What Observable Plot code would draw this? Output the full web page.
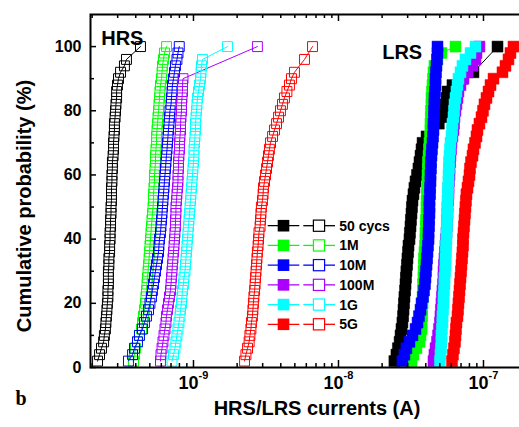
<!DOCTYPE html>
<html><head><meta charset="utf-8">
<script src="https://cdn.jsdelivr.net/npm/d3@7"></script>
<script src="https://cdn.jsdelivr.net/npm/@observablehq/plot@0.6"></script>
<style>
html,body{margin:0;padding:0;background:#fff;overflow:hidden;}
#chart svg{display:block;overflow:hidden;}
</style></head><body><div id="chart"></div>
<script>
// Series (legend order) and colours
const seriesNames = ["50 cycs", "1M", "10M", "100M", "1G", "5G"];
const seriesColors = ["#000000", "#00ff00", "#0000ff", "#aa00ff", "#00ffff", "#ff0000"];

// Cumulative probability levels (%)
const probability = [2,4,6,8,10,12,14,16,18,20,22,24,26,28,30,32,34,36,38,40,42,44,46,48,50,
  52,54,56,58,60,62,64,66,68,70,72,74,76,78,80,82,84,86,88,90,92,94,96,98,100];

// HRS currents (nA), open squares
const hrs50cycs = [0.218,0.225,0.232,0.240,0.243,0.247,0.249,0.251,0.253,0.255,
  0.257,0.257,0.259,0.259,0.259,0.261,0.261,0.264,0.264,0.266,
  0.266,0.268,0.268,0.270,0.270,0.272,0.272,0.272,0.274,0.274,
  0.276,0.276,0.279,0.281,0.281,0.283,0.285,0.285,0.288,0.290,
  0.292,0.295,0.295,0.299,0.304,0.314,0.334,0.345,null,0.431];
const hrs1M = [0.386,0.392,0.398,0.411,0.424,0.438,0.445,0.452,0.459,0.467,
  0.470,0.474,0.478,0.482,0.486,0.490,0.494,0.498,0.501,0.505,
  0.509,0.513,0.517,0.521,0.526,0.530,0.530,0.534,0.538,0.538,
  0.543,0.547,0.547,0.551,0.556,0.556,0.560,0.565,0.569,0.574,
  0.578,0.583,0.587,0.592,0.602,0.607,0.611,0.621,0.631,0.652];
const hrs10M = [0.356,0.380,0.392,0.411,0.424,0.445,0.459,0.474,0.490,0.501,
  0.513,0.521,0.530,0.538,0.547,0.556,0.565,0.574,0.578,0.583,
  0.592,0.597,0.602,0.607,0.611,0.616,0.621,0.626,0.631,0.636,
  0.641,0.646,0.651,0.657,0.662,0.667,0.672,0.678,0.683,0.689,
  0.700,0.705,0.711,0.716,0.728,0.740,0.751,0.769,0.782,0.798];
const hrs100M = [0.592,0.597,0.607,0.616,0.626,0.636,0.646,0.651,0.662,0.672,
  0.683,0.694,0.700,0.705,0.711,0.716,0.722,0.728,0.734,0.740,
  0.745,0.751,0.751,0.757,0.757,0.763,0.769,0.776,0.782,0.782,
  0.788,0.788,0.794,0.801,0.801,0.807,0.814,0.814,0.820,0.827,
  0.827,0.833,0.840,0.840,0.847,null,null,null,null,2.76];
const hrs1G = [0.711,0.728,0.745,0.757,0.769,0.782,0.794,0.807,0.814,0.827,
  0.833,0.840,0.853,0.860,0.874,0.881,0.888,0.895,0.902,0.909,
  0.916,0.924,0.931,0.939,0.946,0.954,0.961,0.969,0.977,0.984,
  0.992,1.000,1.008,1.008,1.016,1.024,1.032,1.032,1.040,1.049,
  1.057,1.066,1.083,1.100,1.118,1.127,1.136,1.154,null,1.716];
const hrs5G = [2.25,2.30,2.36,2.42,2.45,2.49,2.51,2.55,2.57,2.59,
  2.61,2.64,2.66,2.68,2.70,2.72,2.74,2.76,2.79,2.81,
  2.83,2.88,2.90,2.92,2.94,2.99,3.02,3.04,3.09,3.14,
  3.19,3.24,3.29,3.34,3.40,3.51,3.62,3.74,3.86,3.98,
  4.11,4.24,4.41,4.59,4.74,4.97,null,5.83,null,6.62];

// LRS currents (nA), filled squares
const lrs50cycs = [24.3,25.1,25.7,26.4,26.8,27.2,27.6,27.9,28.1,28.3,
  28.5,28.8,29.0,29.2,29.4,29.7,29.9,30.2,30.4,30.9,
  31.1,31.4,31.6,31.9,32.1,32.4,32.9,33.4,34.0,34.8,
  35.6,36.2,36.8,37.4,38.0,40.5,44.5,49.2,52.1,53.8,
  54.7,55.6,56.5,61.1,71.6,85.3,null,null,null,125];
const lrs1M = [31.9,32.9,34.5,36.2,36.8,37.4,37.4,37.7,37.7,38.0,
  38.0,38.3,38.3,38.6,38.6,38.9,38.9,39.2,39.5,39.8,
  39.8,40.1,40.1,40.5,40.5,40.5,40.8,40.8,41.1,41.1,
  41.4,41.4,41.8,42.1,42.4,42.8,43.1,43.1,43.4,43.4,
  43.8,43.8,44.1,44.5,44.9,45.2,45.9,48.2,51.3,64.1];
const lrs10M = [27.6,28.5,29.4,30.9,32.4,34.0,35.1,35.9,36.8,37.4,
  38.3,38.9,39.5,39.8,40.1,40.5,40.8,41.1,41.4,41.8,
  41.8,42.1,42.1,42.4,42.4,42.4,42.8,42.8,43.1,43.1,
  43.4,43.4,43.8,44.1,44.5,44.9,45.2,45.2,45.6,45.6,
  45.9,45.9,46.3,46.7,46.7,47.0,47.4,47.8,48.2,48.2];
const lrs100M = [45.2,45.9,46.7,47.8,48.6,49.3,50.1,50.5,50.9,51.3,
  51.7,52.1,52.6,53.0,53.0,53.4,53.8,54.3,54.7,55.1,
  55.6,56.0,56.0,56.5,56.5,56.9,57.4,57.4,57.8,58.3,
  58.3,58.8,59.2,59.7,60.2,61.1,62.1,62.6,63.1,64.1,
  65.1,66.2,67.2,69.4,72.8,77.6,84.0,88.1,89.5,93.8];
const lrs1G = [50.1,50.5,50.9,51.3,51.3,51.7,52.1,52.1,52.6,53.0,
  53.0,53.4,53.8,53.8,54.3,54.7,54.7,55.1,55.1,55.6,
  55.6,56.0,56.0,56.5,56.5,56.5,56.9,56.9,57.4,57.4,
  57.8,57.8,58.3,58.8,59.2,60.2,60.7,61.1,62.1,62.6,
  63.1,64.1,65.1,66.2,67.2,69.4,71.6,75.1,81.4,88.1];
const lrs5G = [60.7,61.6,62.6,63.6,64.1,64.6,65.1,66.2,66.7,67.2,
  67.8,68.3,68.9,69.4,70.0,70.5,71.1,71.6,72.2,72.2,
  72.8,73.4,74.0,74.5,75.1,75.7,76.3,77.6,78.8,80.1,
  80.7,82.0,84.0,85.3,87.4,89.5,90.9,93.8,96.9,99.2,
  101.6,104.9,108.3,111.8,117.3,135.2,141.8,148.7,153.5,161.0];

// Axis ticks
const xMajorTicks = [1e-9, 1e-8, 1e-7];
const xTickExponents = ["-9", "-8", "-7"];
const xMinorTicks = [2e-10,3e-10,4e-10,5e-10,6e-10,7e-10,8e-10,9e-10,
  2e-9,3e-9,4e-9,5e-9,6e-9,7e-9,8e-9,9e-9,
  2e-8,3e-8,4e-8,5e-8,6e-8,7e-8,8e-8,9e-8];
const yMajorTicks = [0, 20, 40, 60, 80, 100];
const yMinorTicks = [10, 30, 50, 70, 90];

const hrsSeries = [hrs50cycs, hrs1M, hrs10M, hrs100M, hrs1G, hrs5G];
const lrsSeries = [lrs50cycs, lrs1M, lrs10M, lrs100M, lrs1G, lrs5G];

const rowsOf = (vals) => vals
  .map((v, i) => ({current: v == null ? null : v * 1e-9, probability: probability[i]}))
  .filter(d => d.current != null);

const SANS = "Liberation Sans, Arial, Helvetica, sans-serif";
const marks = [];
seriesNames.forEach((name, i) => {
  const c = seriesColors[i];
  const h = rowsOf(hrsSeries[i]);
  const l = rowsOf(lrsSeries[i]);
  marks.push(Plot.line(h, {x: "current", y: "probability", stroke: c, strokeWidth: 1}));
  marks.push(Plot.dot(h, {x: "current", y: "probability", symbol: "square", r: 5.6, stroke: c, fill: "none", strokeWidth: 1}));
  marks.push(Plot.line(l, {x: "current", y: "probability", stroke: c, strokeWidth: 1}));
  marks.push(Plot.dot(l, {x: "current", y: "probability", symbol: "square", r: 6.2, stroke: c, fill: c, strokeWidth: 0.5}));
});

const frameH = 367 - 14, frameW = 521 - 90;
marks.push(
  Plot.frame({stroke: "black", strokeWidth: 2}),
  Plot.tickX(xMajorTicks, {x: d => d, insetTop: frameH - 7, stroke: "black", strokeWidth: 1.5}),
  Plot.tickX(xMajorTicks, {x: d => d, insetBottom: frameH - 7, stroke: "black", strokeWidth: 1.5}),
  Plot.tickX(xMinorTicks, {x: d => d, insetTop: frameH - 4, stroke: "black", strokeWidth: 1.5}),
  Plot.tickX(xMinorTicks, {x: d => d, insetBottom: frameH - 4, stroke: "black", strokeWidth: 1.5}),
  Plot.tickY(yMajorTicks, {y: d => d, insetRight: frameW - 6, stroke: "black", strokeWidth: 1.5}),
  Plot.tickY(yMinorTicks, {y: d => d, insetRight: frameW - 4, stroke: "black", strokeWidth: 1.5}),
  // tick labels
  Plot.text(yMajorTicks, {y: d => d, text: d => String(d), frameAnchor: "left", dx: -9, textAnchor: "end",
    fontSize: 16, fontWeight: "bold", fontFamily: SANS, fill: "black"}),
  Plot.text(xMajorTicks, {x: d => d, text: () => "10", frameAnchor: "bottom", dx: 5, dy: 21, textAnchor: "end",
    fontSize: 18, fontWeight: "bold", fontFamily: SANS, fill: "black"}),
  Plot.text(xMajorTicks, {x: d => d, text: (d, i) => xTickExponents[i], frameAnchor: "bottom", dx: 5, dy: 11.5, textAnchor: "start",
    fontSize: 11, fontWeight: "bold", fontFamily: SANS, fill: "black"}),
  // axis titles and annotations
  Plot.text(["HRS/LRS currents (A)"], {text: d => d, frameAnchor: "bottom", textAnchor: "middle", dx: 11, dy: 47.6,
    fontSize: 20, fontWeight: "bold", fontFamily: SANS, fill: "black"}),
  Plot.text(["Cumulative probability (%)"], {text: d => d, frameAnchor: "left", textAnchor: "middle", rotate: -90, dx: -65.5, dy: 15,
    fontSize: 20, fontWeight: "bold", fontFamily: SANS, fill: "black"}),
  Plot.text(["HRS"], {text: d => d, frameAnchor: "top-left", textAnchor: "start", dx: 10.7, dy: 16.3,
    fontSize: 20, fontWeight: "bold", fontFamily: SANS, fill: "black"}),
  Plot.text(["LRS"], {text: d => d, frameAnchor: "top-left", textAnchor: "start", dx: 291.7, dy: 30.3,
    fontSize: 20, fontWeight: "bold", fontFamily: SANS, fill: "black"}),
  Plot.text(["b"], {text: d => d, frameAnchor: "bottom-left", textAnchor: "start", dx: -75, dy: 37.6,
    fontSize: 20, fontWeight: "bold", fontFamily: "Liberation Serif, Times New Roman, serif", fill: "black"})
);

const chart = Plot.plot({
  width: 519, height: 427,
  marginLeft: 90, marginRight: -2, marginTop: 14, marginBottom: 60,
  x: {type: "log", domain: [1.949e-10, 1.829e-7], axis: null},
  y: {domain: [0, 110], axis: null},
  style: {fontFamily: SANS, background: "white", overflow: "hidden"},
  marks
});
document.getElementById("chart").appendChild(chart);

// In-plot legend
const svg = d3.select(chart);
const lg = svg.append("g").attr("text-anchor", "start");
seriesNames.forEach((name, i) => {
  const y = 225.7 + i * 19.72;
  const c = seriesColors[i];
  lg.append("line").attr("x1", 267.7).attr("x2", 299.3).attr("y1", y).attr("y2", y).attr("stroke", c).attr("stroke-width", 1.3);
  lg.append("rect").attr("x", 283.5 - 5.8).attr("y", y - 5.8).attr("width", 11.6).attr("height", 11.6).attr("fill", c);
  lg.append("line").attr("x1", 303.3).attr("x2", 313.2).attr("y1", y).attr("y2", y).attr("stroke", c).attr("stroke-width", 1.3);
  lg.append("line").attr("x1", 324.8).attr("x2", 335).attr("y1", y).attr("y2", y).attr("stroke", c).attr("stroke-width", 1.3);
  lg.append("rect").attr("x", 319 - 5.6).attr("y", y - 5.6).attr("width", 11.2).attr("height", 11.2)
    .attr("fill", "none").attr("stroke", c).attr("stroke-width", 1.2);
  lg.append("text").attr("x", 339.3).attr("y", y + 5).attr("text-anchor", "start").attr("font-family", SANS).attr("font-size", 14)
    .attr("font-weight", "bold").attr("fill", "black").text(name);
});
</script></body></html>
